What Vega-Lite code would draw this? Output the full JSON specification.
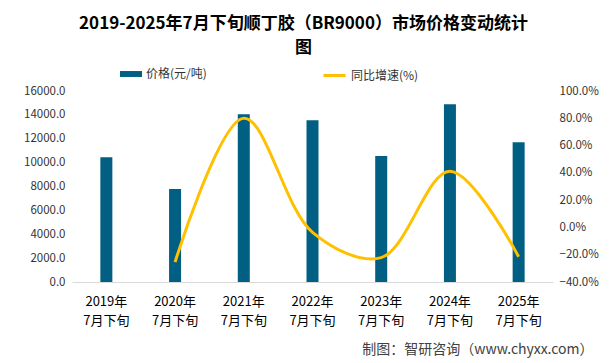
{
  "$schema": "https://vega.github.io/schema/vega-lite/v6.json",
  "autosize": {"type": "none"},
  "width": 481,
  "height": 191,
  "padding": {"left": 72, "top": 91, "right": 56, "bottom": 81},
  "background": "white",
  "config": {
    "font": "Noto Sans CJK SC",
    "view": {"stroke": null},
    "axis": {"labelFont": "Noto Sans CJK SC", "labelColor": "#333333", "labelFontSize": 11.5}
  },
  "title": {
    "text": ["2019-2025年7月下旬顺丁胶（BR9000）市场价格变动统计", "图"],
    "fontSize": 17,
    "fontWeight": "bold",
    "lineHeight": 24,
    "anchor": "middle",
    "dx": -9,
    "offset": 6,
    "color": "#000000"
  },
  "data": {
    "values": [
      {"period": "2019年7月下旬", "price": 10450, "growth": null},
      {"period": "2020年7月下旬", "price": 7800, "growth": -25.4},
      {"period": "2021年7月下旬", "price": 14050, "growth": 80.1},
      {"period": "2022年7月下旬", "price": 13550, "growth": -3.6},
      {"period": "2023年7月下旬", "price": 10550, "growth": -22.1},
      {"period": "2024年7月下旬", "price": 14900, "growth": 41.2},
      {"period": "2025年7月下旬", "price": 11700, "growth": -21.5}
    ]
  },
  "encoding": {
    "x": {
      "field": "period",
      "type": "nominal",
      "sort": null,
      "scale": {"paddingInner": 0.5, "paddingOuter": 0.25},
      "axis": {
        "labelAngle": 0,
        "labelExpr": "[slice(datum.label,0,5), slice(datum.label,5)]",
        "labelColor": "#000000",
        "labelFontSize": 13,
        "labelLineHeight": 19,
        "labelPadding": 13,
        "ticks": false,
        "domainColor": "#D9D9D9",
        "title": "制图：智研咨询（www.chyxx.com）",
        "titleFontSize": 14,
        "titleFontWeight": "normal",
        "titleColor": "#404040",
        "titleAnchor": "end",
        "titleAlign": "right",
        "titleX": 521,
        "titleY": 60
      }
    }
  },
  "layer": [
    {
      "mark": {"type": "bar", "width": 12},
      "encoding": {
        "y": {
          "field": "price",
          "type": "quantitative",
          "scale": {"domain": [0, 16000], "nice": false},
          "axis": {
            "title": null,
            "values": [0, 2000, 4000, 6000, 8000, 10000, 12000, 14000, 16000],
            "format": ".1f",
            "grid": false,
            "domain": false,
            "ticks": false,
            "labelPadding": 7
          }
        },
        "fill": {
          "datum": "价格(元/吨)",
          "type": "nominal",
          "scale": {"range": ["#005F83"]},
          "legend": {
            "title": null,
            "orient": "none",
            "legendX": 48,
            "legendY": -28,
            "symbolType": "M-1,-0.27H1V0.27H-1Z",
            "symbolSize": 484,
            "symbolStrokeWidth": 0,
            "labelFontSize": 12,
            "labelColor": "#333333",
            "labelOffset": 4
          }
        }
      }
    },
    {
      "mark": {"type": "line", "interpolate": "catmull-rom", "strokeWidth": 3},
      "transform": [{"filter": "datum.growth != null"}],
      "encoding": {
        "y": {
          "field": "growth",
          "type": "quantitative",
          "scale": {"domain": [-40, 100], "nice": false},
          "axis": {
            "orient": "right",
            "title": null,
            "values": [-40, -20, 0, 20, 40, 60, 80, 100],
            "labelExpr": "format(datum.value, '.1f') + '%'",
            "grid": false,
            "domain": false,
            "ticks": false,
            "labelPadding": 6
          }
        },
        "stroke": {
          "datum": "同比增速(%)",
          "type": "nominal",
          "scale": {"range": ["#FFC000"]},
          "legend": {
            "title": null,
            "orient": "none",
            "legendX": 250,
            "legendY": -28,
            "symbolType": "stroke",
            "symbolSize": 484,
            "symbolStrokeWidth": 3,
            "labelFontSize": 12,
            "labelColor": "#333333",
            "labelOffset": 4
          }
        }
      }
    }
  ],
  "resolve": {"scale": {"y": "independent"}}
}
